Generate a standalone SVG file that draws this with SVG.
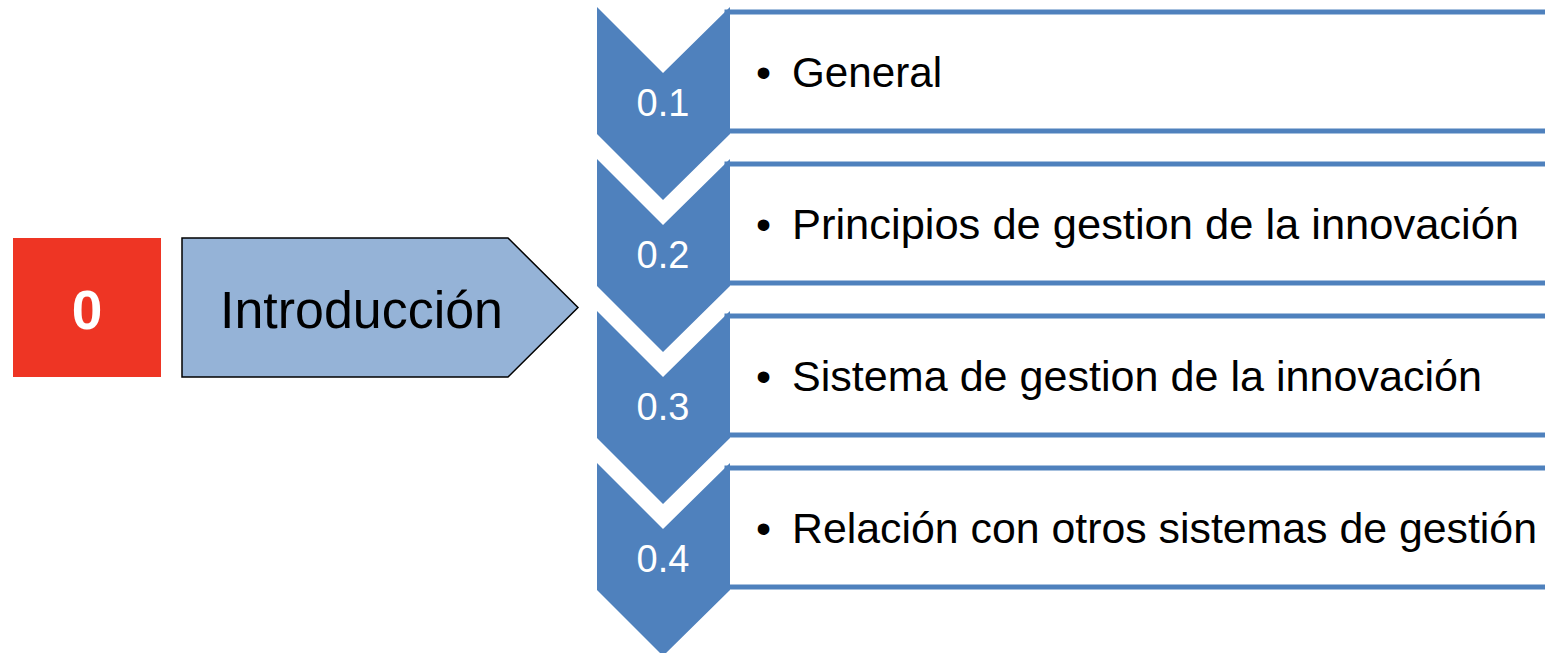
<svg xmlns="http://www.w3.org/2000/svg" width="1545" height="653" viewBox="0 0 1545 653">
<style>
.box{fill:#ffffff;stroke:#4F81BD;stroke-width:5}
.chev{fill:#4F81BD}
.num{font-family:"Liberation Sans",Arial,sans-serif;font-size:38px;fill:#ffffff;text-anchor:middle}
.item{font-family:"Liberation Sans",Arial,sans-serif;font-size:43px;fill:#000000}
</style>
<rect width="1545" height="653" fill="#ffffff"/>
<g id="node-0">
<rect x="13" y="238" width="148" height="139" fill="#EE3524"/>
<text x="87" y="329" font-family="Liberation Sans,Arial,sans-serif" font-size="55" font-weight="bold" fill="#ffffff" text-anchor="middle">0</text>
</g>
<g id="node-intro">
<polygon points="182,238 508,238 578,307.5 508,377 182,377" fill="#95B3D7" stroke="#000000" stroke-width="1.5"/>
<text x="220" y="328" font-family="Liberation Sans,Arial,sans-serif" font-size="51" fill="#000000" textLength="283" lengthAdjust="spacingAndGlyphs">Introducción</text>
</g>
<g id="node-01">
<rect class="box" x="727" y="12" width="822" height="119"/>
<polygon class="chev" points="597,7 663,73 730,7 730,134 663,200 597,134"/>
<text class="num" x="663" y="116">0.1</text>
<text class="item" x="756" y="87">•</text>
<text class="item" x="792" y="87" textLength="150" lengthAdjust="spacingAndGlyphs">General</text>
</g>
<g id="node-02">
<rect class="box" x="727" y="164" width="822" height="119"/>
<polygon class="chev" points="597,159 663,225 730,159 730,286 663,352 597,286"/>
<text class="num" x="663" y="268">0.2</text>
<text class="item" x="756" y="239">•</text>
<text class="item" x="792" y="239" textLength="727" lengthAdjust="spacingAndGlyphs">Principios de gestion de la innovación</text>
</g>
<g id="node-03">
<rect class="box" x="727" y="316" width="822" height="119"/>
<polygon class="chev" points="597,311 663,377 730,311 730,438 663,504 597,438"/>
<text class="num" x="663" y="420">0.3</text>
<text class="item" x="756" y="391">•</text>
<text class="item" x="792" y="391" textLength="690" lengthAdjust="spacingAndGlyphs">Sistema de gestion de la innovación</text>
</g>
<g id="node-04">
<rect class="box" x="727" y="468" width="822" height="119"/>
<polygon class="chev" points="597,463 663,529 730,463 730,590 663,656 597,590"/>
<text class="num" x="663" y="572">0.4</text>
<text class="item" x="756" y="543">•</text>
<text class="item" x="792" y="543" textLength="745" lengthAdjust="spacingAndGlyphs">Relación con otros sistemas de gestión</text>
</g>
<g id="connectors"></g>
</svg>
